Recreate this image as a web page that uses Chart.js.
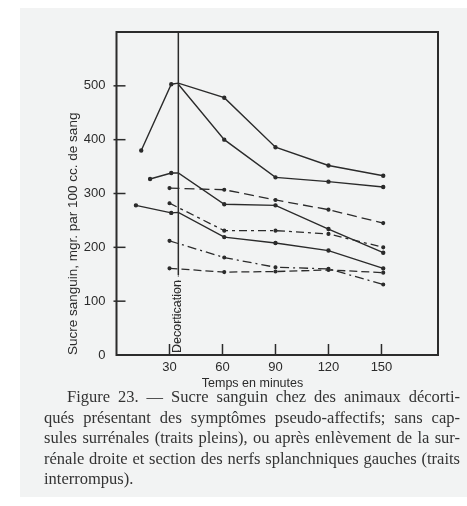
<!DOCTYPE html>
<html>
<head>
<meta charset="utf-8">
<script src="https://cdn.jsdelivr.net/npm/chart.js@4.4.0/dist/chart.umd.min.js"></script>
<style>
  body { margin: 0; background: #fff; width: 467px; height: 506px; position: relative; overflow: hidden; }
  #panel { position: absolute; left: 20px; top: 8px; width: 447px; height: 489px; background: #f2f3f3; }
  #wrap { position: absolute; left: 0; top: 0; width: 467px; height: 392px; }
  #caption { position: absolute; left: 44px; top: 387px; width: 416px; color: #333;
             font: 16.5px "Liberation Serif", "Times New Roman", serif; line-height: 20.5px; }
  #caption div { text-align: justify; text-align-last: justify; white-space: nowrap; }
  #caption div.first { margin-left: 23px; }
  #caption div.last { text-align-last: left; }
</style>
</head>
<body>
<div id="panel"></div>
<div id="wrap"><canvas id="chart"></canvas></div>
<div id="caption">
  <div class="first">Figure 23. — Sucre sanguin chez des animaux décorti-</div>
  <div>qués présentant des symptômes pseudo-affectifs; sans cap-</div>
  <div>sules surrénales (traits pleins), ou après enlèvement de la sur-</div>
  <div>rénale droite et section des nerfs splanchniques gauches (traits</div>
  <div class="last">interrompus).</div>
</div>
<script>
const ink = "#2b2b2b";

const xTickValues = [30, 60, 90, 120, 150];
const yTickValues = [0, 100, 200, 300, 400, 500];
const decorticationMinute = 35;

// traits pleins (sans capsules surrénales)
const s1Minutes = [14, 31, 35, 61, 90, 120, 151];
const s1Sugar = [380, 503, 505, 478, 386, 352, 333];
const s2Minutes = [35, 61, 90, 120, 151];
const s2Sugar = [503, 400, 330, 322, 312];
const s3Minutes = [19, 31, 35, 61, 90, 120, 151];
const s3Sugar = [327, 338, 338, 280, 278, 234, 190];
const s4Minutes = [11, 31, 35, 61, 90, 120, 151];
const s4Sugar = [278, 264, 265, 219, 208, 194, 161];

// traits interrompus
const dashedMinutes = [30, 61, 90, 120, 151];
const d1Sugar = [310, 307, 288, 270, 245];
const d2Sugar = [282, 231, 231, 225, 200];
const d3Sugar = [212, 181, 163, 160, 131];
const d4Sugar = [161, 154, 155, 158, 153];

function pts(xs, ys) {
    return xs.map((m, i) => ({x: m, y: ys[i]}))
}

function solid(xs, ys) {
    return {
        data: pts(xs, ys),
        borderColor: ink,
        backgroundColor: ink,
        borderWidth: 1.4,
        pointRadius: xs.map(m => m === decorticationMinute ? 0 : 1.5),
        tension: 0
    }
}

function dashed(ys, dash) {
    return {
        data: pts(dashedMinutes, ys),
        borderColor: ink,
        backgroundColor: ink,
        borderWidth: 1.3,
        borderDash: dash,
        pointRadius: 1.4,
        tension: 0
    }
}

const decorations = {
    id: "decorations",
    afterDraw(chart) {
        const {ctx, chartArea: a} = chart;
        const x = chart.scales.x, y = chart.scales.y;
        const line = (x1, y1, x2, y2) => {
            ctx.beginPath(); ctx.moveTo(x1, y1); ctx.lineTo(x2, y2); ctx.stroke();
        };
        ctx.save();
        ctx.strokeStyle = ink;
        ctx.fillStyle = ink;

        // cadre
        ctx.lineWidth = 2;
        ctx.strokeRect(a.left, a.top, a.right - a.left, a.bottom - a.top);

        // petites graduations
        ctx.lineWidth = 1.5;
        x.ticks.forEach(t => {
            const px = x.getPixelForValue(t.value);
            line(px, a.bottom, px, a.bottom - 11);
        });
        y.ticks.forEach(t => {
            if (t.value === 0) return;
            const py = y.getPixelForValue(t.value);
            line(a.left - 3, py, a.left + 9, py);
        });

        // décortication
        const dx = x.getPixelForValue(decorticationMinute);
        const labelTop = a.bottom - 80;
        ctx.lineWidth = 1.5;
        line(dx, a.top, dx, labelTop);
        ctx.lineWidth = 1;
        ctx.setLineDash([2, 3]);
        ctx.strokeStyle = "#777";
        line(dx, labelTop, dx, a.bottom);
        ctx.setLineDash([]);

        ctx.save();
        ctx.translate(dx - 1, a.bottom - 2);
        ctx.rotate(-Math.PI / 2);
        ctx.font = "12.5px 'Liberation Sans', sans-serif";
        ctx.textAlign = "left";
        ctx.textBaseline = "middle";
        ctx.fillText("Decortication", 0, 0);
        ctx.restore();

        // titre de l'axe x
        ctx.font = "12.5px 'Liberation Sans', sans-serif";
        ctx.textAlign = "center";
        ctx.textBaseline = "middle";
        ctx.fillText("Temps en minutes", x.getPixelForValue(77), a.bottom + 29);
        ctx.restore();
    }
};

new Chart("chart", {
    type: "line",
    data: {
        datasets: [
            solid(s1Minutes, s1Sugar),
            solid(s2Minutes, s2Sugar),
            solid(s3Minutes, s3Sugar),
            solid(s4Minutes, s4Sugar),
            dashed(d1Sugar, [10, 5]),
            dashed(d2Sugar, [8, 4, 3, 4]),
            dashed(d3Sugar, [9, 4, 2, 4]),
            dashed(d4Sugar, [8, 4])
        ]
    },
    options: {
        animation: false,
        responsive: true,
        maintainAspectRatio: false,
        layout: {
            padding: {left: 0, top: 32, right: 29, bottom: 0}
        },
        plugins: {
            legend: {display: false},
            tooltip: {enabled: false}
        },
        scales: {
            x: {
                type: "linear",
                min: 0,
                max: 182,
                afterBuildTicks: s => { s.ticks = xTickValues.map(v => ({value: v})) },
                afterFit: s => { s.height = 37 },
                grid: {display: false, drawTicks: false},
                border: {display: false},
                ticks: {
                    color: ink,
                    padding: 5,
                    maxRotation: 0,
                    font: {family: "'Liberation Sans', sans-serif", size: 13}
                }
            },
            y: {
                min: 0,
                max: 600,
                afterBuildTicks: s => { s.ticks = yTickValues.map(v => ({value: v})) },
                afterFit: s => { s.width = 116.5 },
                grid: {display: false, drawTicks: false},
                border: {display: false},
                ticks: {
                    color: ink,
                    padding: 11,
                    font: {family: "'Liberation Sans', sans-serif", size: 13}
                },
                title: {
                    display: true,
                    text: "Sucre sanguin, mgr. par 100 cc. de sang",
                    align: "start",
                    color: ink,
                    padding: {top: 65, bottom: 0},
                    font: {family: "'Liberation Sans', sans-serif", size: 13.5}
                }
            }
        }
    },
    plugins: [decorations]
});
</script>
</body>
</html>
